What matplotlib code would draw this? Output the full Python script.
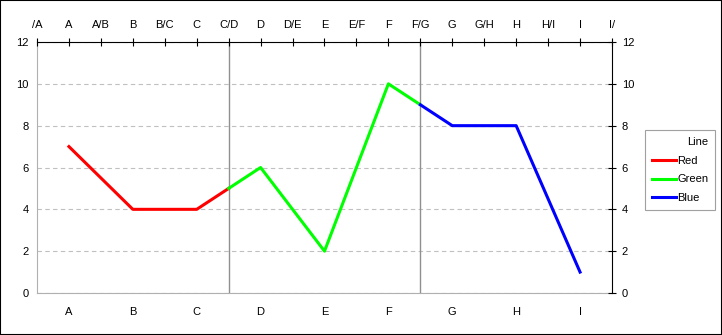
import matplotlib
matplotlib.use('Agg')
import matplotlib.pyplot as plt
from matplotlib.patches import Rectangle

plt.rcParams['font.family'] = ['Liberation Sans', 'DejaVu Sans']
plt.rcParams['font.size'] = 8

top_labels = ['/A', 'A', 'A/B', 'B', 'B/C', 'C', 'C/D', 'D', 'D/E', 'E',
              'E/F', 'F', 'F/G', 'G', 'G/H', 'H', 'H/I', 'I', 'I/']
bottom_labels = ['A', 'B', 'C', 'D', 'E', 'F', 'G', 'H', 'I']

red_x = ['A', 'B', 'C', 'C/D']
red_y = [7, 4, 4, 5]
green_x = ['C/D', 'D', 'E', 'F', 'F/G']
green_y = [5, 6, 2, 10, 9]
blue_x = ['F/G', 'G', 'H', 'I']
blue_y = [9, 8, 8, 1]
dividers = ['C/D', 'F/G']

pos = {lab: i for i, lab in enumerate(top_labels)}

fig = plt.figure(figsize=(7.22, 3.35), dpi=100)
fig.patches.append(Rectangle((0, 0), 1, 1, transform=fig.transFigure,
                             fill=False, edgecolor='black', linewidth=1.5))
ax = fig.add_axes([37 / 722, 42 / 335, 575 / 722, 251 / 335])

ax.set_xlim(0, len(top_labels) - 1)
ax.set_ylim(0, 12)
ax.set_yticks(range(0, 13, 2))
ax.yaxis.grid(True, color='#c0c0c0', linestyle=(0, (4, 3)), linewidth=0.8)
ax.set_axisbelow(True)

for d in dividers:
    ax.axvline(pos[d], color='#909090', linewidth=1)

ax.plot([pos[x] for x in red_x], red_y, color='#ff0000', linewidth=2.2, label='Red')
ax.plot([pos[x] for x in green_x], green_y, color='#00ff00', linewidth=2.2, label='Green')
ax.plot([pos[x] for x in blue_x], blue_y, color='#0000ff', linewidth=2.2, label='Blue')

# bottom axis: categories, no ticks
ax.set_xticks([pos[b] for b in bottom_labels])
ax.set_xticklabels(bottom_labels)
ax.tick_params(axis='x', length=0, pad=10)
ax.tick_params(axis='y', length=0, pad=6)
for s in ['left', 'bottom']:
    ax.spines[s].set_color('#b0b0b0')
ax.spines['top'].set_visible(False)
ax.spines['right'].set_visible(False)

# top axis
axt = ax.twiny()
axt.set_xlim(ax.get_xlim())
axt.set_xticks(range(len(top_labels)))
axt.set_xticklabels(top_labels)
axt.tick_params(axis='x', direction='inout', length=6, pad=6)
axt.spines['top'].set_color('black')
for s in ['left', 'bottom', 'right']:
    axt.spines[s].set_visible(False)

# right axis
axr = ax.twinx()
axr.set_ylim(ax.get_ylim())
axr.set_yticks(range(0, 13, 2))
axr.tick_params(axis='y', direction='inout', length=6, pad=4)
axr.spines['right'].set_color('black')
for s in ['left', 'bottom', 'top']:
    axr.spines[s].set_visible(False)

leg = fig.legend(*ax.get_legend_handles_labels(), title='Line',
                 loc='upper left', bbox_to_anchor=(645 / 722, 1 - 130 / 335),
                 fancybox=False, framealpha=1, edgecolor='#a0a0a0',
                 handlelength=2.2, handletextpad=0.1, borderpad=0.6,
                 borderaxespad=0, labelspacing=0.8, fontsize=8, title_fontsize=8)
leg.get_frame().set_linewidth(0.8)
leg._legend_box.align = 'right'

fig.savefig('out.png', dpi=100)
